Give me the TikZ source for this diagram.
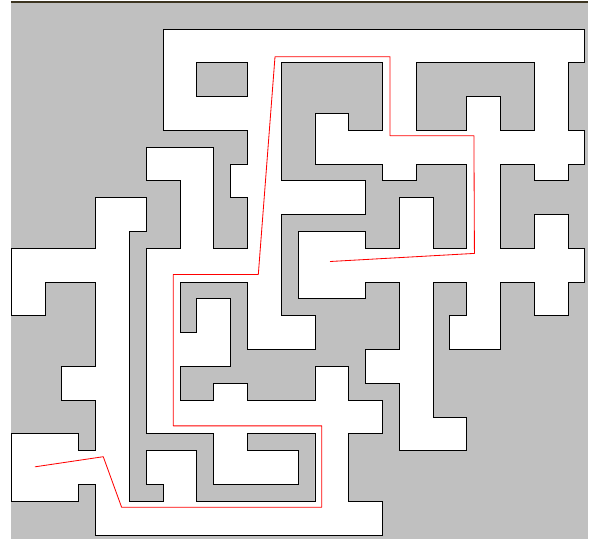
\documentclass[tikz,border=0pt]{standalone}
\usepackage{tikz}
\definecolor{mazegray}{RGB}{192,192,192}
\definecolor{rimbrown}{RGB}{60,52,32}

\begin{document}
\begin{tikzpicture}[x=0.5cm, y=-0.5cm,
    wall/.style={draw=black, line width=0.8pt, fill=white, even odd rule},
    route/.style={red, line width=0.7pt, line join=round}
  ]
  \useasboundingbox (-0.67,-1.72) rectangle (34.30,30.23);
  % background and top rim
  \fill[mazegray] (-0.02,-1.55) rectangle (34.17,30.23);
  \draw[rimbrown, line width=1.9pt] (-0.02,-1.58) -- (34.17,-1.58);
  % corridors, with the two islands cut out
  \path[wall] (9,0) -- (34,0) -- (34,2) -- (33,2) -- (33,6) -- (34,6) -- (34,8)
    -- (33,8) -- (33,9) -- (31,9) -- (31,8) -- (29,8) -- (29,13) -- (31,13)
    -- (31,11) -- (33,11) -- (33,13) -- (34,13) -- (34,15) -- (33,15) -- (33,17)
    -- (31,17) -- (31,15) -- (29,15) -- (29,19) -- (26,19) -- (26,17) -- (27,17)
    -- (27,15) -- (25,15) -- (25,23) -- (27,23) -- (27,25) -- (23,25) -- (23,21)
    -- (21,21) -- (21,19) -- (23,19) -- (23,15) -- (21,15) -- (21,16) -- (17,16)
    -- (17,12) -- (21,12) -- (21,13) -- (23,13) -- (23,10) -- (25,10) -- (25,13)
    -- (27,13) -- (27,8) -- (24,8) -- (24,9) -- (22,9) -- (22,8) -- (18,8)
    -- (18,5) -- (20,5) -- (20,6) -- (22,6) -- (22,2) -- (16,2) -- (16,9)
    -- (21,9) -- (21,11) -- (16,11) -- (16,17) -- (18,17) -- (18,19) -- (14,19)
    -- (14,15) -- (10,15) -- (10,18) -- (11,18) -- (11,16) -- (13,16) -- (13,20)
    -- (10,20) -- (10,22) -- (12,22) -- (12,21) -- (14,21) -- (14,22) -- (18,22)
    -- (18,20) -- (20,20) -- (20,22) -- (22,22) -- (22,24) -- (20,24) -- (20,28)
    -- (22,28) -- (22,30) -- (5,30) -- (5,27) -- (4,27) -- (4,28) -- (0,28)
    -- (0,24) -- (4,24) -- (4,25) -- (5,25) -- (5,22) -- (3,22) -- (3,20)
    -- (5,20) -- (5,15) -- (2,15) -- (2,17) -- (0,17) -- (0,13) -- (5,13)
    -- (5,10) -- (8,10) -- (8,12) -- (7,12) -- (7,28) -- (9,28) -- (9,27)
    -- (8,27) -- (8,25) -- (11,25) -- (11,28) -- (18,28) -- (18,24) -- (14,24)
    -- (14,25) -- (17,25) -- (17,27) -- (12,27) -- (12,24) -- (8,24) -- (8,13)
    -- (10,13) -- (10,9) -- (8,9) -- (8,7) -- (12,7) -- (12,13) -- (14,13)
    -- (14,10) -- (13,10) -- (13,8) -- (14,8) -- (14,6) -- (9,6) -- cycle
    (11,2) rectangle (14,4)
    (24,2) -- (31,2) -- (31,6) -- (29,6) -- (29,4) -- (27,4) -- (27,6) -- (24,6) -- cycle;
  % solution
  \coordinate (start) at (1.40,25.95);
  \coordinate (goal) at (18.89,13.78);
  \draw[route] (start) -- (5.45,25.35) -- (6.54,28.35) -- (18.40,28.35)
    -- (18.40,23.52) -- (9.60,23.52) -- (9.60,14.55) -- (14.64,14.55)
    -- (15.63,1.64) -- (22.45,1.64) -- (22.45,6.33) -- (27.42,6.33)
    -- (27.45,13.30) -- (goal);
\end{tikzpicture}
\end{document}
